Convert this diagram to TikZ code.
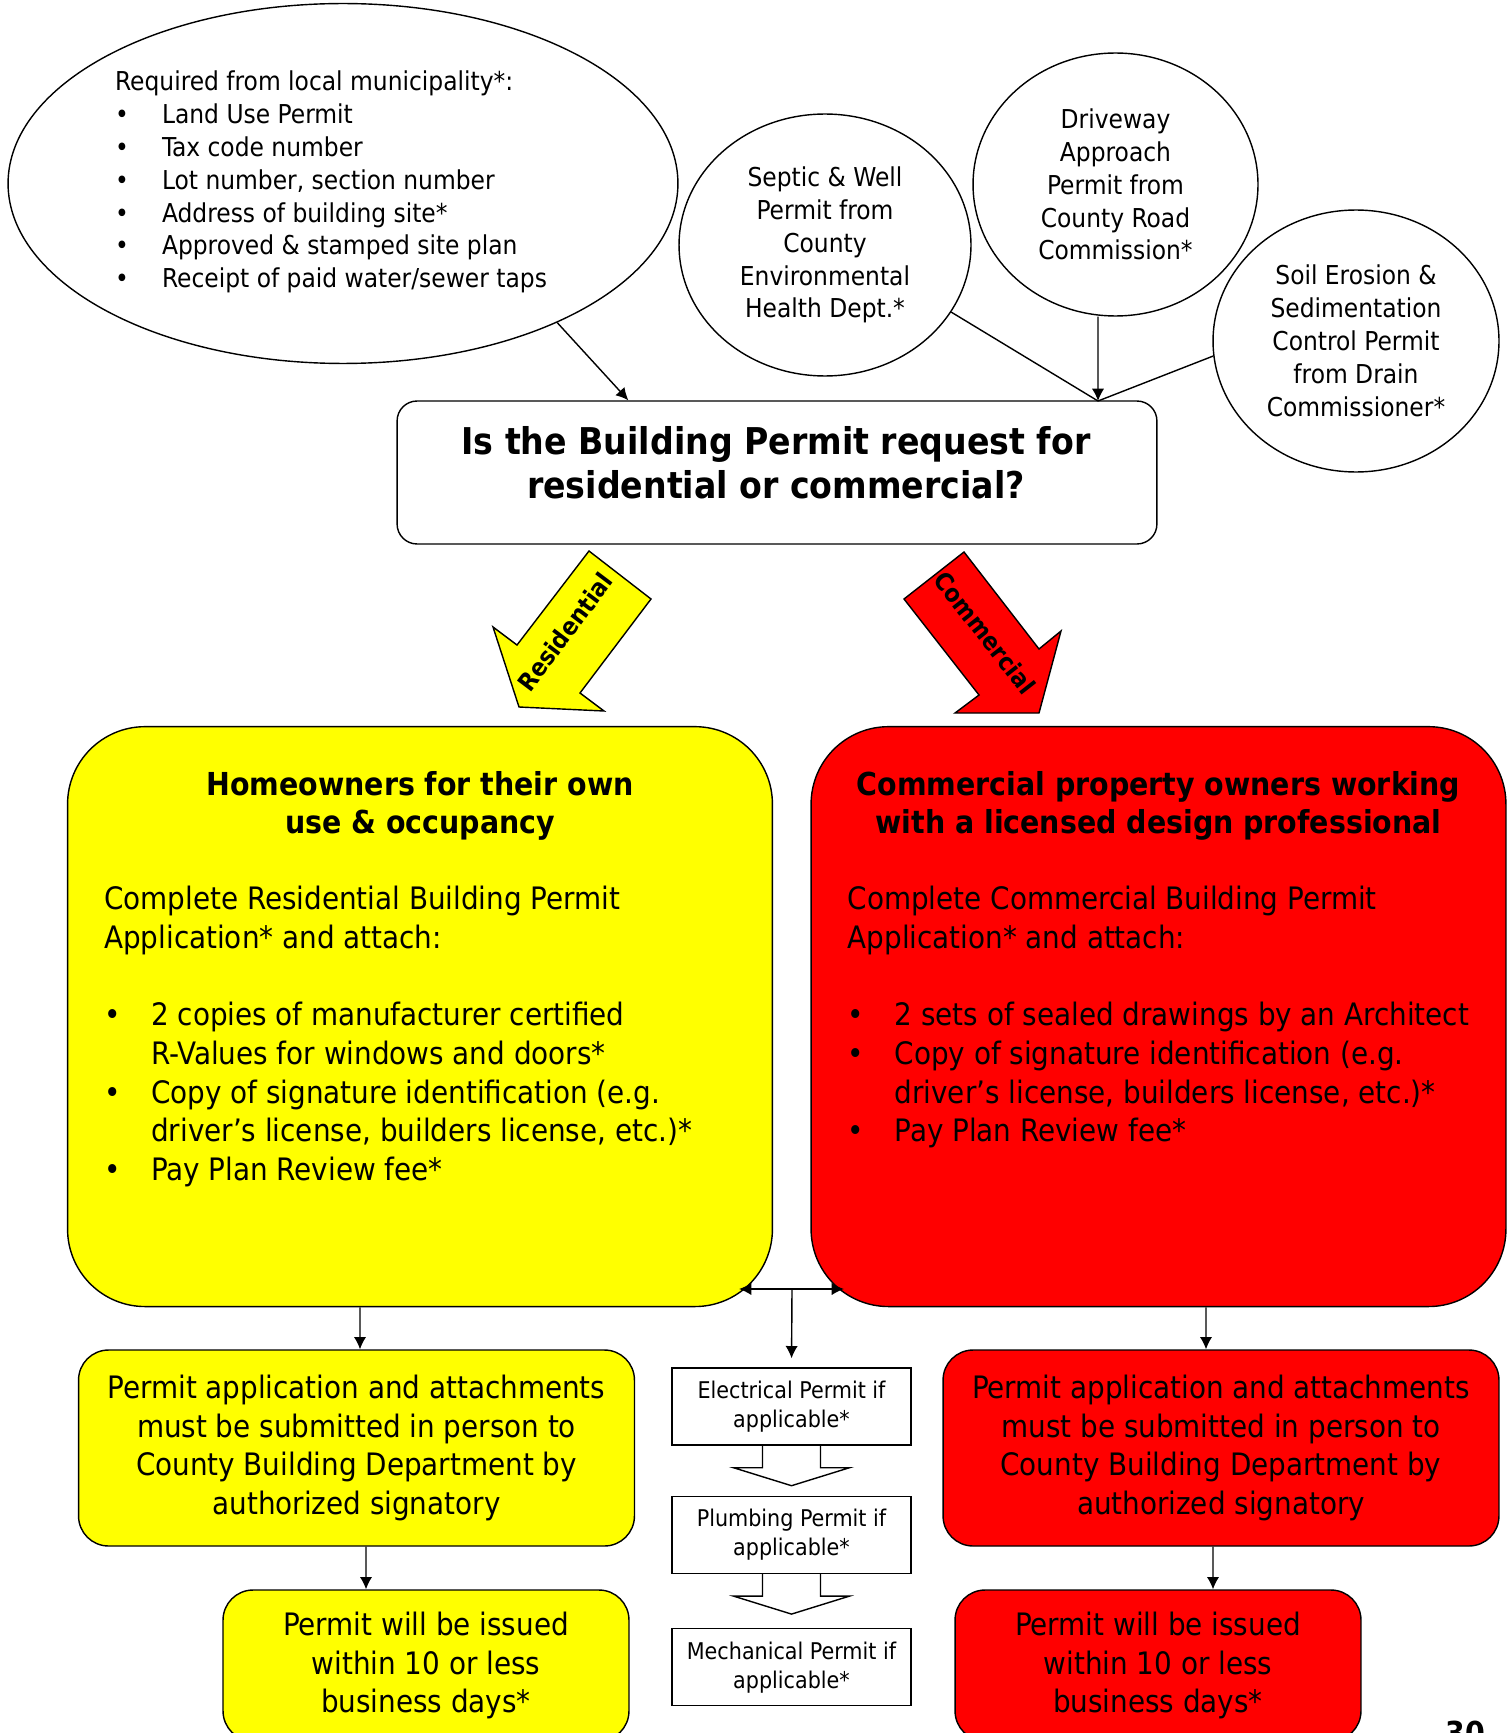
\documentclass[tikz,border=0pt]{standalone}
\usepackage{fontspec}
\setmainfont{DejaVu Sans Condensed}
\usetikzlibrary{positioning,shapes.geometric,arrows.meta}

\definecolor{resyellow}{RGB}{255,255,0}
\definecolor{comred}{RGB}{255,0,0}
\newcommand{\smalltext}{\fontsize{14.8pt}{18.7pt}\selectfont}
\newcommand{\bodytext}{\fontsize{17.6pt}{22pt}\selectfont}
\newcommand{\headtext}{\fontsize{18pt}{22pt}\selectfont\bfseries}
\newcommand{\titletext}{\fontsize{21pt}{25pt}\selectfont\bfseries}
\newcommand{\permtext}{\fontsize{13.1pt}{16.5pt}\selectfont}
\newcommand{\tagtext}{\fontsize{14pt}{16pt}\selectfont\bfseries}
\newcommand{\bul}{\makebox[0.94cm][l]{\textbullet}}
\newcommand{\ind}{\hspace*{0.94cm}}

\begin{document}
\begin{tikzpicture}[
    x=0.02cm, y=-0.02cm,
    bubble/.style={
      ellipse, draw, line width=0.8pt, inner sep=0pt, align=center,
      font=\smalltext
    },
    block/.style={
      draw, line width=0.8pt, inner sep=0pt, align=center, font=\bodytext
    },
    bigbox/.style={block, rounded corners=1.55cm, minimum height=11.6cm},
    subbox/.style={block, rounded corners=0.6cm, minimum width=11.12cm, minimum height=3.92cm},
    donebox/.style={block, rounded corners=0.6cm, minimum width=8.12cm, minimum height=3.02cm},
    permitbox/.style={block, font=\permtext, minimum width=4.78cm, minimum height=1.54cm},
    resfill/.style={fill=resyellow},
    comfill/.style={fill=comred},
    listtext/.style={inner sep=0pt, align=left, font=\bodytext},
    arr/.style={-{Latex[length=7pt,width=7pt]}, line width=0.8pt},
    hollow/.style={line width=0.8pt},
  ]
    \useasboundingbox (0,0) rectangle (1508,1733);
    \clip (0,0) rectangle (1508,1733);

    % permits needed before the building permit
    \node[bubble, minimum width=13.4cm, minimum height=7.2cm](muni) at (343,183.5) {};
    \node[inner sep=0pt, align=left, font=\smalltext](munitext) at (331,182){
      Required from local municipality*:\\
      \bul Land Use Permit\\
      \bul Tax code number\\
      \bul Lot number, section number\\
      \bul Address of building site*\\
      \bul Approved \& stamped site plan\\
      \bul Receipt of paid water/sewer taps
    };
    \node[bubble, minimum width=5.84cm, minimum height=5.24cm](septic) at (825,245)
      {Septic \& Well\\Permit from\\County\\Environmental\\Health Dept.*};
    \node[bubble, minimum width=5.7cm, minimum height=5.26cm](drive) at (1115.5,184.5)
      {Driveway\\Approach\\Permit from\\County Road\\Commission*};
    \node[bubble, minimum width=5.72cm, minimum height=5.24cm](soil) at (1356,341)
      {Soil Erosion \&\\Sedimentation\\Control Permit\\from Drain\\Commissioner*};

    \node[block, rounded corners=0.4cm, minimum width=15.2cm, minimum height=2.86cm](q)
      at (777,472.5) {};
    \node[inner sep=0pt, align=center, font=\titletext](qtext) at (776,463)
      {Is the Building Permit request for\\residential or commercial?};

    \coordinate (qjoin) at (1098,401);
    \draw[arr] (muni.-33) -- ([xshift=4.64cm]q.north west);
    \draw[arr] ([xshift=-0.35cm]drive.south) -- (qjoin);
    \draw[line width=0.8pt] (septic.-28) -- (qjoin);
    \draw[line width=0.8pt] (soil.186) -- (qjoin);

    % the two branches
    \filldraw[resfill, line width=0.8pt] (589,551) -- (651,599) -- (580,693) -- (604,711)
      -- (519,707) -- (493,627) -- (517,645) -- cycle;
    \node[rotate=53, font=\tagtext](restag) at (565,632) {Residential};
    \filldraw[comfill, line width=0.8pt] (964,552) -- (904,599) -- (979,695) -- (955,713)
      -- (1039,713) -- (1061,631) -- (1039,649) -- cycle;
    \node[rotate=-52, font=\tagtext](comtag) at (985,633) {Commercial};

    \node[bigbox, resfill, minimum width=14.1cm](res) at (420,1016.6) {};
    \node[below=0.9cm of res.north, inner sep=0pt, align=center, font=\headtext](restitle)
      {Homeowners for their own\\use \& occupancy};
    \node[listtext, anchor=north west](reslist) at ([xshift=0.74cm,yshift=-3.2cm]res.north west){
      Complete Residential Building Permit\\
      Application* and attach:\\[22pt]
      \bul 2 copies of manufacturer certified\\
      \ind R-Values for windows and doors*\\
      \bul Copy of signature identification (e.g.\\
      \ind driver’s license, builders license, etc.)*\\
      \bul Pay Plan Review fee*
    };

    \node[bigbox, comfill, minimum width=13.9cm](com) at (1158.5,1016.6) {};
    \node[below=0.9cm of com.north, inner sep=0pt, align=center, font=\headtext](comtitle)
      {Commercial property owners working\\with a licensed design professional};
    \node[listtext, anchor=north west](comlist) at ([xshift=0.74cm,yshift=-3.2cm]com.north west){
      Complete Commercial Building Permit\\
      Application* and attach:\\[22pt]
      \bul 2 sets of sealed drawings by an Architect\\
      \bul Copy of signature identification (e.g.\\
      \ind driver’s license, builders license, etc.)*\\
      \bul Pay Plan Review fee*
    };

    % trade permits in the middle
    \node[permitbox](elec) at (791.5,1406.5) {Electrical Permit if\\applicable*};
    \node[permitbox, below=1cm of elec](plumb) {Plumbing Permit if\\applicable*};
    \node[permitbox, below=1.08cm of plumb](mech) {Mechanical Permit if\\applicable*};

    \coordinate (split) at (792,1289);
    \coordinate (resjoin) at (739,1289);
    \coordinate (comjoin) at (844,1289);
    \draw[arr] (split) -- (resjoin);
    \draw[arr] (split) -- (comjoin);
    \draw[arr, shorten >=0.18cm] (split) -- (elec.north);
    \draw[hollow] ([xshift=-0.58cm]elec.south) -- ++(0,22) -- ++(-29,0) -- ++(58,18)
      -- ++(58,-18) -- ++(-29,0) -- ++(0,-22);
    \draw[hollow] ([xshift=-0.58cm]plumb.south) -- ++(0,22) -- ++(-29,0) -- ++(58,18)
      -- ++(58,-18) -- ++(-29,0) -- ++(0,-22);

    % submission and issue
    \node[subbox, resfill](ressub) at (356.5,1448)
      {Permit application and attachments\\must be submitted in person to\\County Building Department by\\authorized signatory};
    \node[donebox, resfill](resdone) at (426,1665.5)
      {Permit will be issued\\within 10 or less\\business days*};
    \node[subbox, comfill](comsub) at (1221,1448)
      {Permit application and attachments\\must be submitted in person to\\County Building Department by\\authorized signatory};
    \node[donebox, comfill](comdone) at (1158,1665.5)
      {Permit will be issued\\within 10 or less\\business days*};

    \draw[arr] ([xshift=-1.2cm]res.south) -- ([xshift=0.07cm]ressub.north);
    \draw[arr] ([xshift=0.19cm]ressub.south) -- ([xshift=-1.2cm]resdone.north);
    \draw[arr] ([xshift=0.95cm]com.south) -- ([xshift=-0.3cm]comsub.north);
    \draw[arr] ([xshift=-0.16cm]comsub.south) -- ([xshift=1.1cm]comdone.north);

    \node[anchor=north, inner sep=0pt, font=\headtext](pagenum) at (1465,1721) {30};
  \end{tikzpicture}
\end{document}
